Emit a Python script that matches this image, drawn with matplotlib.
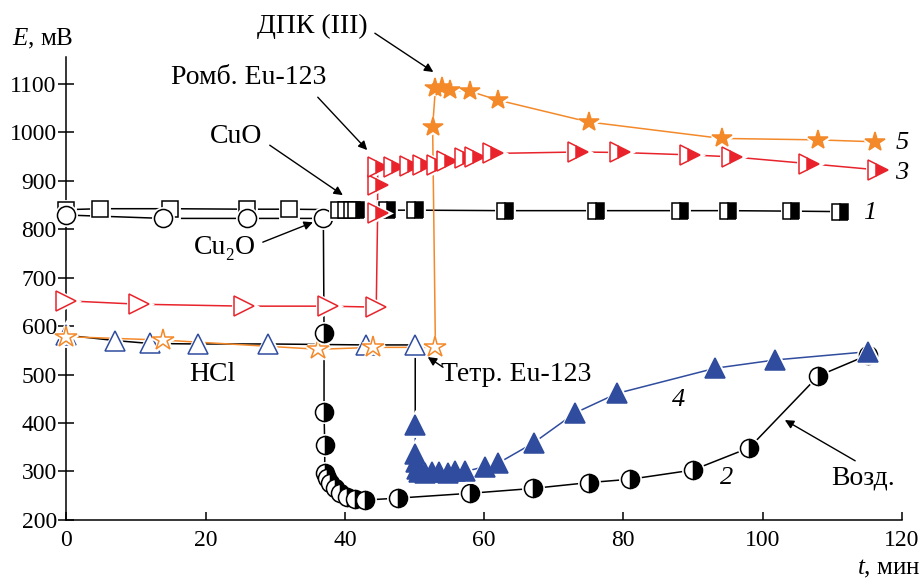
import matplotlib
matplotlib.use('Agg')
import matplotlib.pyplot as plt

plt.rcParams['font.family'] = ['Liberation Serif', 'DejaVu Serif']
plt.rcParams['mathtext.fontset'] = 'custom'
plt.rcParams['mathtext.rm'] = 'Liberation Serif'
plt.rcParams['mathtext.it'] = 'Liberation Serif:italic'

# Colours
RED = '#e8232b'
ORANGE = '#f4892a'
BLUE = '#2f4c9e'

# Curve 1 (squares): open part, then half-filled part
t1a = [0, 4.8, 14.9, 25.9, 31.9]
E1a = [840, 842, 842, 841, 841]
t1b = [39.2, 40.1, 41.0, 41.6, 46.1, 50.1, 63.0, 76.1, 88.1, 95.0, 104.1, 111.1]
E1b = [840, 840, 840, 840, 839, 839, 838, 838, 838, 838, 837, 836]

# Curve 2 (circles)
t2a = [0, 13.9, 25.9, 36.9]
E2a = [829, 822, 822, 822]
t2b = [37.0, 37.0, 37.1, 37.1, 37.4, 37.9, 38.6, 39.3, 40.3, 41.5, 42.9, 47.6,
       58.0, 67.0, 75.0, 81.0, 90.0, 98.1, 108.0, 115.1]
E2b = [585, 423, 355, 296, 287, 276, 266, 255, 248, 243, 241, 245,
       255, 265, 277, 284, 303, 349, 497, 540]

# Curve 3 (right triangles)
t3a = [0, 10.4, 25.5, 37.5, 44.5]
E3a = [652, 645, 641, 641, 639]
t3b = [44.7, 44.7, 44.7, 47.1, 49.3, 51.2, 53.2, 54.6, 57.3, 58.7, 61.3, 73.5,
       79.5, 89.6, 95.6, 106.6, 116.6]
E3b = [833, 891, 928, 929, 930, 932, 933, 940, 946, 949, 956, 959,
       958, 953, 949, 935, 922]

# Curve 4 (up triangles)
t4a = [0, 7.0, 12.0, 18.9, 29.0, 43.1, 50.1]
E4a = [581, 570, 564, 563, 563, 561, 561]
t4b = [50.1, 50.1, 50.2, 50.4, 50.6, 51.5, 52.5, 53.5, 54.8, 55.8, 57.3, 60.1,
       62.0, 67.1, 73.1, 79.1, 93.2, 101.8, 115.1]
E4b = [396, 335, 320, 305, 298, 297, 298, 298, 297, 300, 300, 310,
       317, 359, 421, 461, 513, 530, 547]

# Curve 5 (stars)
t5a = [0, 13.9, 36.2, 44.1, 53.0]
E5a = [578, 571, 552, 556, 556]
t5b = [52.6, 53.0, 53.9, 55.1, 58.0, 62.0, 75.0, 94.1, 108.0, 116.2]
E5b = [1011, 1090, 1094, 1087, 1084, 1066, 1021, 987, 984, 980]

fig = plt.figure(figsize=(9.22, 5.79), dpi=100)
ax = fig.add_axes([0.0721, 0.102, 0.906, 0.7996])


def line(t, e, color):
    ax.plot(t, e, '-', color=color, lw=1.1, zorder=1, clip_on=False)


def marks(t, e, marker, ms, edge, face, alt=None, fill='full', z=3):
    # white halo first so the lines stop short of the markers
    ax.plot(t, e, marker, ms=ms, mfc='white', mec='white', mew=3.5, ls='none',
            zorder=z, clip_on=False)
    kw = dict(ms=ms, mec=edge, mfc=face, mew=1.1, ls='none', zorder=z,
              fillstyle=fill, clip_on=False)
    if alt is not None:
        kw['markerfacecoloralt'] = alt
    ax.plot(t, e, marker, **kw)


# lines
line(t1a + t1b, E1a + E1b, 'black')
line(t2a + t2b, E2a + E2b, 'black')
line(t3a + t3b, E3a + E3b, RED)
line(t4a + t4b[:1], E4a + E4b[:1], 'black')
line(t4b, E4b, BLUE)
line(t5a + t5b, E5a + E5b, ORANGE)

# markers
marks(t4a, E4a, '^', 14, BLUE, 'white', z=3)
marks(t5a, E5a, '*', 16, ORANGE, 'white', z=3)
marks(t3a, E3a, '>', 15, RED, 'white', z=3)
marks(t1a, E1a, 's', 12, 'black', 'white', z=3)
marks(t2a, E2a, 'o', 13, 'black', 'white', z=3)
marks(t2b, E2b, 'o', 13, 'black', 'black', alt='white', fill='right', z=4)
marks(t4b, E4b, '^', 14, BLUE, BLUE, z=4)
marks(t1b, E1b, 's', 11, 'black', 'black', alt='white', fill='right', z=4)
marks(t3b, E3b, '>', 15, RED, RED, alt='white', fill='right', z=5)
marks(t5b, E5b, '*', 15, ORANGE, ORANGE, z=6)

ax.set_xlim(0, 120)
ax.set_ylim(200, 1155)
ax.set_xticks([0, 20, 40, 60, 80, 100, 120])
ax.set_yticks(range(200, 1101, 100))
for s in ['top', 'right']:
    ax.spines[s].set_visible(False)
for s in ['left', 'bottom']:
    ax.spines[s].set_linewidth(1.1)
    ax.spines[s].set_zorder(0.5)
ax.tick_params(axis='x', direction='in', length=6, width=1.1, labelsize=17, pad=7)
ax.tick_params(axis='y', direction='inout', length=12, width=1.1, labelsize=17, pad=1)

# axis titles
fig.text(12 / 922, 1 - 45 / 579, '$E$, мВ', fontsize=18, ha='left', va='baseline')
fig.text(920 / 922, 1 - 574 / 579, '$t$, мин', fontsize=18, ha='right', va='baseline')

# annotations
arrow = dict(arrowstyle='-|>', color='black', lw=1.0, mutation_scale=13,
             shrinkA=0, shrinkB=0)
fs = 20
ax.text(35.3, 1218, 'ДПК (III)', fontsize=fs, ha='center', va='center', clip_on=False)
ax.annotate('', xy=(52.7, 1124), xytext=(44.3, 1204), arrowprops=arrow,
            annotation_clip=False)
ax.text(26.2, 1112, 'Ромб. Eu-123', fontsize=fs, ha='center', va='center')
ax.annotate('', xy=(43.2, 963), xytext=(36.1, 1072), arrowprops=arrow)
ax.text(24.4, 990, 'CuO', fontsize=fs, ha='center', va='center')
ax.annotate('', xy=(39.7, 870), xytext=(29.2, 973), arrowprops=arrow)
ax.text(22.8, 761, 'Cu₂O', fontsize=fs, ha='center', va='center')
ax.annotate('', xy=(35.4, 814), xytext=(28.2, 773), arrowprops=arrow)
ax.text(21.0, 499, 'HCl', fontsize=fs, ha='center', va='center')
ax.text(64.6, 499, 'Тетр. Eu-123', fontsize=fs, ha='center', va='center')
ax.annotate('', xy=(51.9, 536), xytext=(54.1, 515), arrowprops=arrow)
ax.text(114.4, 287, 'Возд.', fontsize=fs, ha='center', va='center')
ax.annotate('', xy=(103.2, 406), xytext=(113.3, 322), arrowprops=arrow)

# curve numbers
for lbl, x, y in [('5', 120.0, 977), ('3', 120.0, 915), ('1', 115.4, 833),
                  ('4', 87.9, 447), ('2', 94.9, 287)]:
    ax.text(x, y, lbl, fontsize=19, style='italic', ha='center', va='center',
            clip_on=False)

fig.savefig('out.png', dpi=100)
